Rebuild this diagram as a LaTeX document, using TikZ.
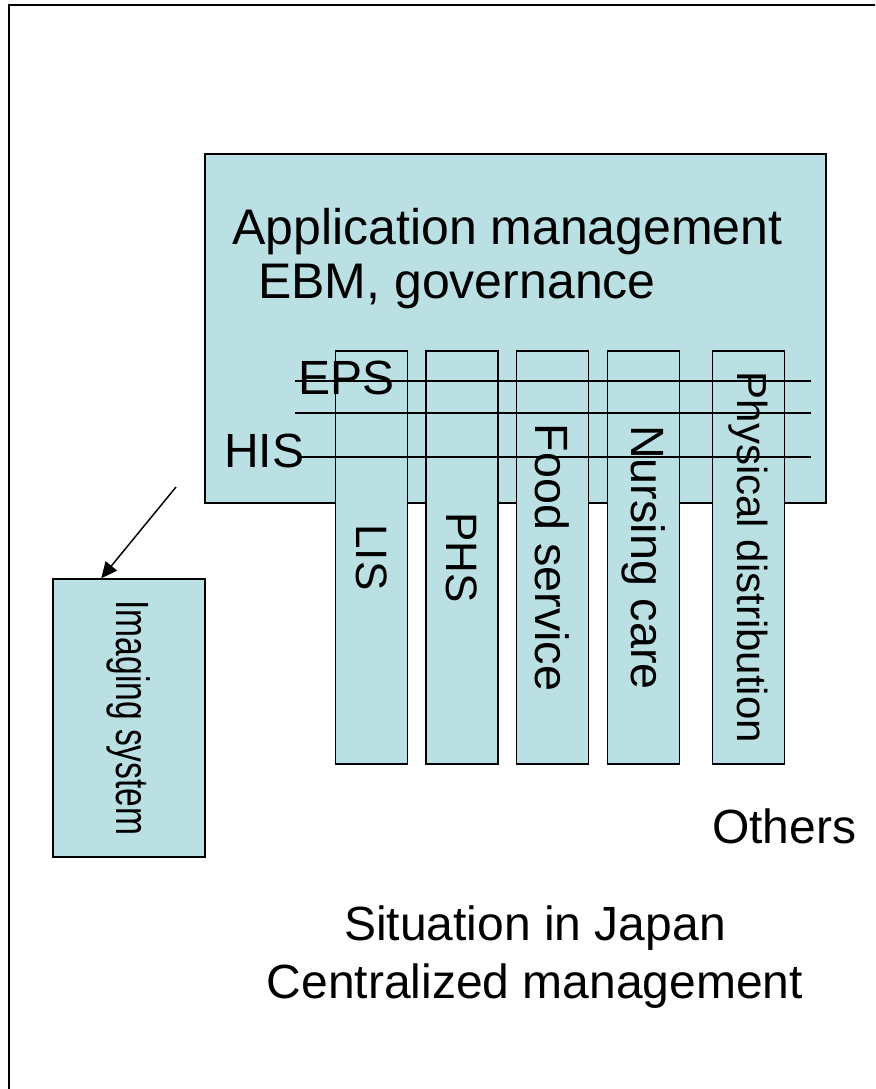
\documentclass[tikz,border=0pt]{standalone}
\usepackage{fontspec}
\setmainfont{Liberation Sans}
\usepackage{graphicx}
\usetikzlibrary{arrows.meta,calc}
\definecolor{paleblue}{RGB}{187,224,227}
\tikzset{
  panel/.style={draw, fill=paleblue, line width=1.1pt, inner sep=0pt},
  colbox/.style={panel, minimum width=54pt, minimum height=309.75pt},
  txt/.style={inner sep=0pt, font=\fontsize{36}{43}\selectfont},
}
\begin{document}
\begin{tikzpicture}[x=0.75pt, y=-0.75pt]
    \useasboundingbox (0,0) rectangle (875,1089);
    \clip (0,0) rectangle (875,1089);
    \draw[line width=1.6pt] (9,1150) -- (9,5) -- (950,5);

    \node[panel, minimum width=465.75pt, minimum height=261.75pt] (app) at (515.5,328.5) {};
    \node[txt, font=\fontsize{37.5}{45}\selectfont, anchor=base west] (app1) at (232,244) {Application management};
    \node[txt, font=\fontsize{37.5}{45}\selectfont, anchor=base west] (app2) at (258,298) {EBM, governance};

    \foreach \x/\name/\fs/\label in {371.5/lis/33/LIS, 462/phs/33/PHS, 552.5/food/35/Food service,
                                     643.5/care/35/Nursing care, 748.5/dist/31.5/Physical distribution} {
      \node[colbox, txt, font=\fontsize{\fs}{\fs}\selectfont] (\name) at (\x,557.5) {\rotatebox{-90}{\label}};
    }

    \foreach \y in {381,413} {
      \draw[line width=1.1pt] (295,\y) -- (811,\y);
    }
    \draw[line width=1.1pt] (300,457) -- (811,457);
    \node[txt, anchor=base west] (eps) at (298,394) {EPS};
    \node[txt, anchor=base west] (his) at (224,467) {HIS};

    \node[colbox, txt, font=\fontsize{35}{42}\selectfont, minimum width=114pt, minimum height=208.5pt] (img) at (129,718)
      {\rotatebox{-90}{\scalebox{0.72}[1]{Imaging system}}};
    \coordinate (from) at (176,487);
    \draw[line width=1.1pt, -{Triangle[length=12pt, width=11pt]}] (from) -- ($(img.north west)+(49,0)$);

    \node[txt, anchor=base west] (others) at (712,843) {Others};
    \node[txt, anchor=base] (sit) at (535,940) {Situation in Japan};
    \node[txt, anchor=base] (cent) at (535,998) {Centralized management};
\end{tikzpicture}
\end{document}
